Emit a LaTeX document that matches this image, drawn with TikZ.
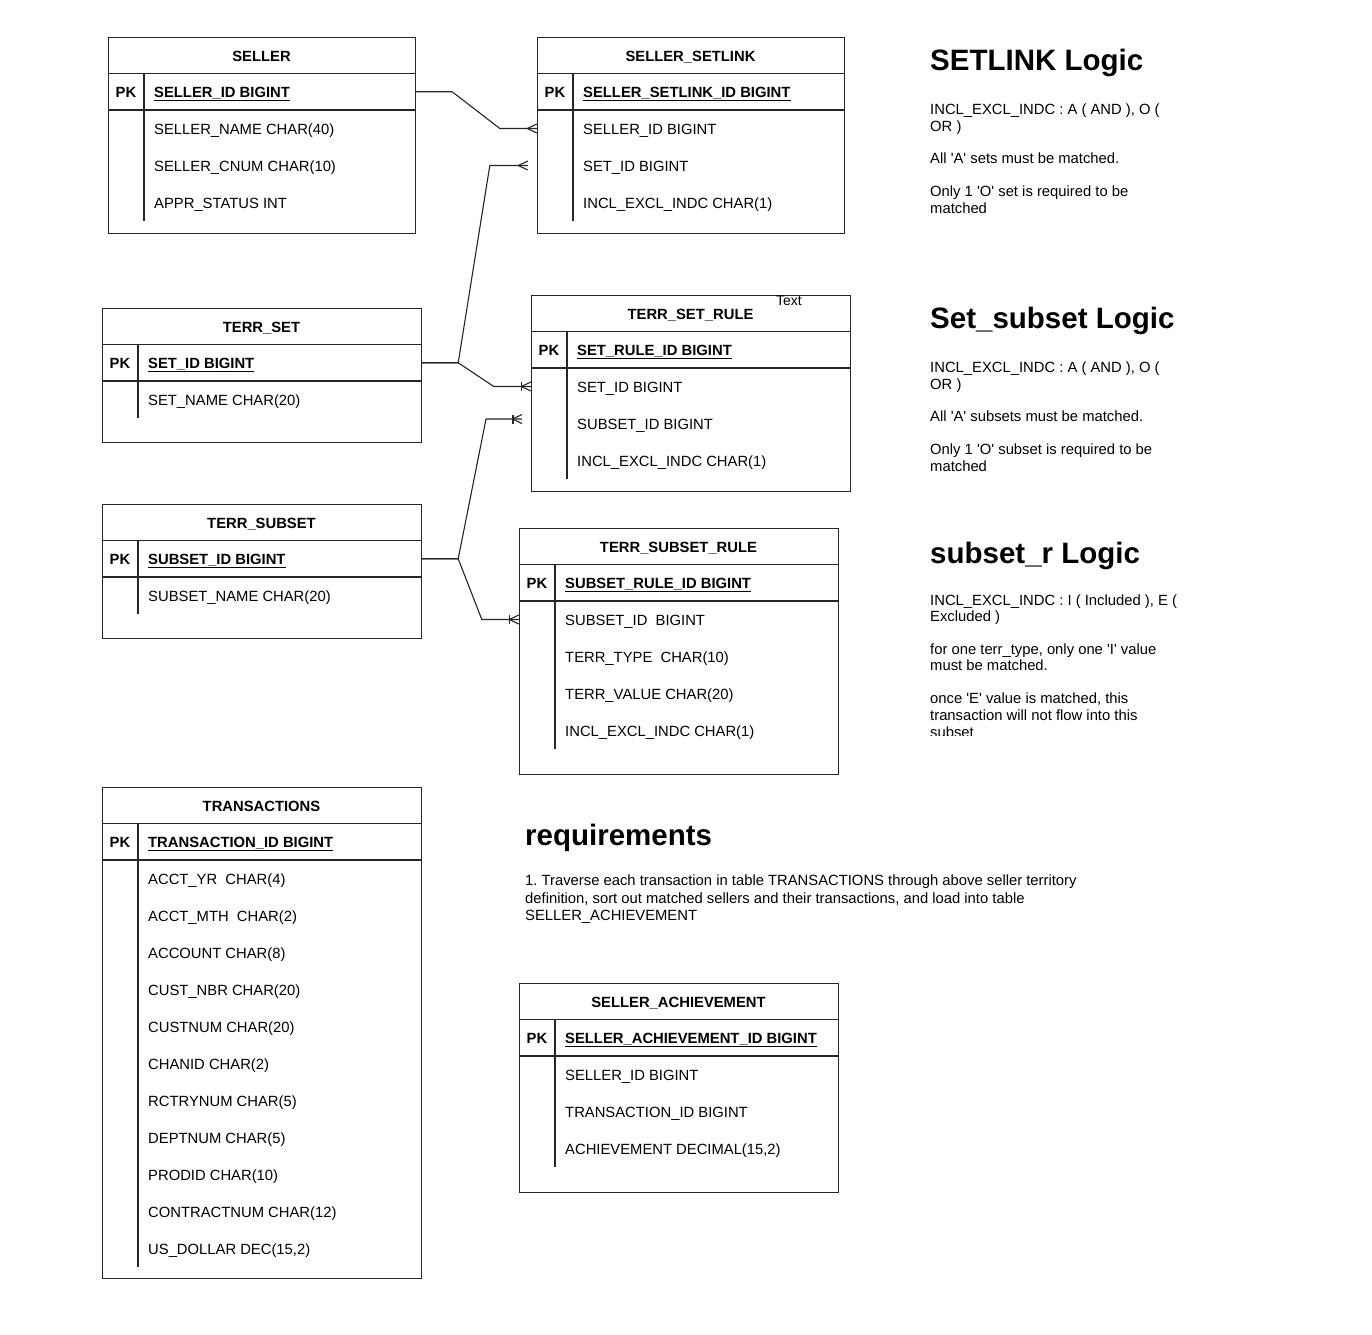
\documentclass[tikz,border=0pt]{standalone}
\usepackage{fontspec}
\setmainfont{Liberation Sans}[Ligatures=TeXOff]
\usetikzlibrary{calc}
\frenchspacing
\newcommand\fs{\fontsize{14.8}{17}\selectfont}
\newcommand\fh{\fontsize{29.5}{34}\selectfont\bfseries}
\colorlet{lncol}{black!85}
\tikzset{
  tbl/.style={draw=lncol, line width=1.15pt, inner sep=0pt, anchor=north west},
  ln/.style={draw=lncol, line width=1.15pt},
  pkln/.style={draw=lncol, line width=1.7pt},
  ul/.style={line width=1.3pt},
  rowa/.style={inner sep=0pt, minimum height=37pt},
  hdr/.style={font=\fs\bfseries, inner sep=0pt, anchor=base},
  pkl/.style={font=\fs\bfseries, inner sep=0pt, anchor=base},
  pkt/.style={font=\fs\bfseries, inner sep=0pt, anchor=base west},
  attr/.style={font=\fs, inner sep=0pt, anchor=base west},
  txt/.style={font=\fs, inner sep=0pt, anchor=base west},
  heading/.style={font=\fh, inner sep=0pt, anchor=base west},
  conn/.style={draw=lncol, line width=1.1pt},
}
% #1 name #2 x0 #3 y0 #4 width #5 height #6 title #7 pk text #8 rows
\newcommand\ertab[8]{%
  \node[tbl, minimum width=#4pt, minimum height=#5pt] (#1) at (#2,#3) {};
  \node[hdr] (#1-t) at (#2+#4/2,#3+18.25+6) {#6};
  \draw[ln] (#2,#3+36.5) -- (#2+#4,#3+36.5);
  \node[rowa, minimum width=#4pt] (#1-pk) at (#2+#4/2,#3+54.75) {};
  \node[pkl] (#1-pkl) at (#2+18,#3+54.75+6) {PK};
  \node[pkt] (#1-pkt) at (#2+46,#3+54.75+6) {#7};
  \draw[ul] ([yshift=-2.6pt]#1-pkt.base west) -- ([yshift=-2.6pt]#1-pkt.base east);
  \draw[pkln] (#2,#3+73) -- (#2+#4,#3+73);
  \foreach \r [count=\i] in {#8} {
    \node[rowa, minimum width=#4pt] (#1-r\i) at (#2+#4/2,#3+73+37*\i-18.5) {};
    \node[attr] (#1-r\i-t) at (#2+46,#3+73+37*\i-18.5+6) {\r};
    \xdef\nrows{\i}
  }
  \draw[ln] (#2+36,#3+36.5) -- (#2+36,#3+73+37*\nrows);
}
\newcommand\crowmany[1]{%
  \draw[conn] ([xshift=-9.5pt]#1) -- ([yshift=4.5pt]#1) ([xshift=-9.5pt]#1) -- ([yshift=-4.5pt]#1);}
\newcommand\crowbar[1]{%
  \draw[conn] ([xshift=-9pt,yshift=4.5pt]#1) -- ([xshift=-9pt,yshift=-4.5pt]#1);}
\newcommand\txtline[4]{\node[txt] (#1) at (#2,#3) {#4};}
\begin{document}
\begin{tikzpicture}[x=1pt,y=-1pt]
\fill[white] (0,0) rectangle (1372,1334);
\useasboundingbox (0,0) rectangle (1372,1334);

\ertab{seller}{108}{37}{307}{196}{SELLER}{SELLER\_ID BIGINT}%
  {{SELLER\_NAME CHAR(40)},{SELLER\_CNUM CHAR(10)},{APPR\_STATUS INT}}
\ertab{setlink}{537}{37}{307}{196}{SELLER\_SETLINK}{SELLER\_SETLINK\_ID BIGINT}%
  {{SELLER\_ID BIGINT},{SET\_ID BIGINT},{INCL\_EXCL\_INDC CHAR(1)}}
\ertab{terrset}{102}{308}{319}{134}{TERR\_SET}{SET\_ID BIGINT}%
  {{SET\_NAME CHAR(20)}}
\ertab{setrule}{531}{295}{319}{196}{TERR\_SET\_RULE}{SET\_RULE\_ID BIGINT}%
  {{SET\_ID BIGINT},{SUBSET\_ID BIGINT},{INCL\_EXCL\_INDC CHAR(1)}}
\ertab{terrsub}{102}{504}{319}{134}{TERR\_SUBSET}{SUBSET\_ID BIGINT}%
  {{SUBSET\_NAME CHAR(20)}}
\ertab{subrule}{519}{528}{319}{246}{TERR\_SUBSET\_RULE}{SUBSET\_RULE\_ID BIGINT}%
  {{SUBSET\_ID\ \ BIGINT},{TERR\_TYPE\ \ CHAR(10)},{TERR\_VALUE CHAR(20)},{INCL\_EXCL\_INDC CHAR(1)}}
\ertab{trans}{102}{787}{319}{491}{TRANSACTIONS}{TRANSACTION\_ID BIGINT}%
  {{ACCT\_YR\ \ CHAR(4)},{ACCT\_MTH\ \ CHAR(2)},{ACCOUNT CHAR(8)},{CUST\_NBR CHAR(20)},{CUSTNUM CHAR(20)},{CHANID CHAR(2)},{RCTRYNUM CHAR(5)},{DEPTNUM CHAR(5)},{PRODID CHAR(10)},{CONTRACTNUM CHAR(12)},{US\_DOLLAR DEC(15,2)}}
\ertab{ach}{519}{983}{319}{209}{SELLER\_ACHIEVEMENT}{SELLER\_ACHIEVEMENT\_ID BIGINT}%
  {{SELLER\_ID BIGINT},{TRANSACTION\_ID BIGINT},{ACHIEVEMENT DECIMAL(15,2)}}

\node[font=\fontsize{14}{16}\selectfont, inner sep=0pt, anchor=base] (textlbl) at (789,305) {Text};

% connectors
\draw[conn] (seller-pk.east) -- ++(37,0) -- ([xshift=-37pt]setlink-r1.west) -- (setlink-r1.west);
\crowmany{setlink-r1.west}

\coordinate (c2) at ([xshift=-9pt]setlink-r2.west);
\draw[conn] (terrset-pk.east) -- ++(37,0) -- ([xshift=-38pt]c2) -- (c2);
\crowmany{c2}

\draw[conn] (terrset-pk.east) -- ++(37,0) -- ([xshift=-37pt]setrule-r1.west) -- (setrule-r1.west);
\crowmany{setrule-r1.west}
\crowbar{setrule-r1.west}

\coordinate (c4) at (522,419);
\draw[conn] (terrsub-pk.east) -- ++(37,0) -- ([xshift=-36pt]c4) -- (c4);
\crowmany{c4}
\crowbar{c4}

\draw[conn] (terrsub-pk.east) -- ++(37,0) -- ([xshift=-37pt]subrule-r1.west) -- (subrule-r1.west);
\crowmany{subrule-r1.west}
\crowbar{subrule-r1.west}

% SETLINK Logic
\node[heading] (h1) at (930,70.5) {SETLINK Logic};
\txtline{a1}{930}{114.5}{INCL\_EXCL\_INDC : A ( AND ), O (}
\txtline{a2}{930}{131}{OR )}
\txtline{a3}{930}{163.5}{All 'A' sets must be matched.}
\txtline{a4}{930}{196}{Only 1 'O' set is required to be}
\txtline{a5}{930}{213}{matched}

% Set_subset Logic
\node[heading] (h2) at (930,328.5) {Set\_subset Logic};
\txtline{b1}{930}{372.5}{INCL\_EXCL\_INDC : A ( AND ), O (}
\txtline{b2}{930}{389}{OR )}
\txtline{b3}{930}{421.5}{All 'A' subsets must be matched.}
\txtline{b4}{930}{454}{Only 1 'O' subset is required to be}
\txtline{b5}{930}{471}{matched}

% subset_r Logic
\node[heading] (h3) at (930,563) {subset\_r Logic};
\txtline{d1}{930}{605}{INCL\_EXCL\_INDC : I ( Included ), E (}
\txtline{d2}{930}{621.5}{Excluded )}
\txtline{d3}{930}{654}{for one terr\_type, only one 'I' value}
\txtline{d4}{930}{670.5}{must be matched.}
\txtline{d5}{930}{703.5}{once 'E' value is matched, this}
\txtline{d6}{930}{720}{transaction will not flow into this}
\begin{scope}
  \clip (920,724) rectangle (1250,735);
  \txtline{d7}{930}{737.5}{subset}
\end{scope}

% requirements
\node[heading] (h4) at (525,845) {requirements};
\txtline{e1}{525}{885.5}{1. Traverse each transaction in table TRANSACTIONS through above seller territory}
\txtline{e2}{525}{903}{definition, sort out matched sellers and their transactions, and load into table}
\txtline{e3}{525}{920.5}{SELLER\_ACHIEVEMENT}
\end{tikzpicture}
\end{document}
